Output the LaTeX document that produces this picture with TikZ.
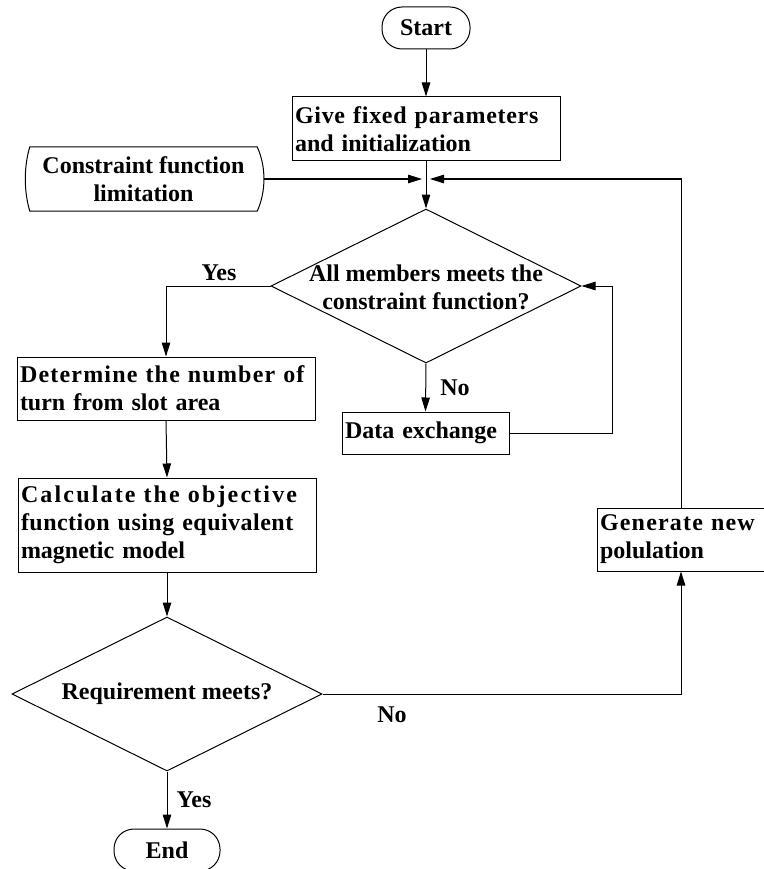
\documentclass[tikz,border=0pt]{standalone}
\usepackage{fontspec}
\setmainfont{Liberation Serif}
\usetikzlibrary{shapes.geometric,arrows.meta}
% a line stretched to a given width, with optional letter spacing
\newcommand\spreadline[3]{\makebox[#1][s]{\addfontfeature{LetterSpace=#2}#3}}
\begin{document}
\begin{tikzpicture}[x=1pt,y=-1pt,
  every node/.style={font=\fontsize{24}{28}\selectfont\bfseries},
  flow/.style={line width=1pt},
  arr/.style={flow,-{Triangle[length=14pt,width=8.5pt]}},
  procbox/.style={draw,line width=1pt,rectangle,inner xsep=3pt,inner ysep=0pt,align=left},
  terminal/.style={draw,line width=1pt,rounded corners=20pt,minimum height=42pt,inner sep=0pt},
  decision/.style={draw,line width=1pt,diamond,minimum width=310pt,minimum height=154pt,inner sep=0pt},
  lbl/.style={inner sep=0pt}]
\useasboundingbox (0,0) rectangle (763,869);

% terminals
\node[terminal,minimum width=88pt] (start) at (426,28) {Start};
\node[terminal,minimum width=106pt] (stop) at (167,850) {End};

% process boxes
\node[procbox,text width=262pt,minimum height=64pt] (init) at (426,129)
  {\spreadline{262pt}{3}{Give fixed parameters}\\and initialization};
\node[procbox,text width=292pt,minimum height=63pt] (det) at (166,388.5)
  {\spreadline{292pt}{5}{Determine the number of}\\turn from slot area};
\node[procbox,text width=161pt,minimum height=42pt] (data) at (425.5,433)
  {Data exchange};
\node[procbox,text width=292pt,minimum height=94pt] (calc) at (167,525)
  {\spreadline{292pt}{9}{Calculate the objective}\\
   \spreadline{292pt}{2}{function using equivalent}\\magnetic model};
\node[procbox,text width=162pt,minimum height=63pt] (gen) at (681,539.5)
  {\spreadline{162pt}{5}{Generate new}\\polulation};

% constraint input shape
\node[minimum width=227pt,minimum height=64pt,inner sep=0pt,align=center] (cons) at (143.5,179)
  {Constraint function\\limitation};
\draw[flow] (cons.north west) .. controls +(-6,20) and +(-6,-20) .. (cons.south west)
  -- (cons.south east) .. controls +(9,-20) and +(9,20) .. (cons.north east) -- cycle;

% decisions
\node[decision] (d1) at (426,286) {};
\node[lbl,align=center] (d1txt) at (426,287) {All members meets the\\constraint function?};
\node[decision] (d2) at (167,694) {};
\node[lbl] (d2txt) at (167,694) {Requirement meets?};

% branch labels
\node[lbl] (yes1) at (219,273) {Yes};
\node[lbl] (no1) at (455,388) {No};
\node[lbl] (no2) at (392,715) {No};
\node[lbl] (yes2) at (194,800) {Yes};

% connectors
\coordinate (mrg) at (init.south |- cons.east);
\draw[arr] (start.south) -- (init.north);
\draw[arr] (init.south) -- (d1.north);
\draw[arr] ([xshift=7pt]cons.east) -- ([xshift=-4pt]mrg);
\draw[arr] (gen.north) |- ([xshift=4pt]mrg);
\draw[arr] (d1.west) -| (det.north);
\draw[arr] (d1.south) -- (data.north);
\draw[arr] (data.east) -- ++(103,0) |- (d1.east);
\draw[arr] (det.south) -- (calc.north);
\draw[arr] (calc.south) -- (d2.north);
\draw[arr] (d2.east) -| (gen.south);
\draw[arr] (d2.south) -- (stop.north);
\end{tikzpicture}
\end{document}
